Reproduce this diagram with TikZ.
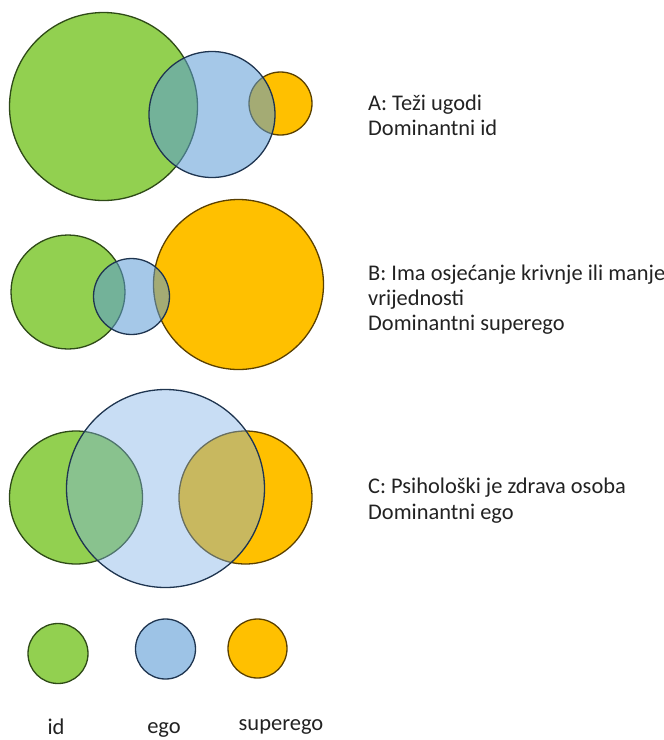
\documentclass[tikz,border=0pt]{standalone}
\usepackage{fontspec}
\setmainfont{Carlito}
\definecolor{idfill}{HTML}{92D050}
\definecolor{idline}{HTML}{2E4A17}
\definecolor{egofill}{HTML}{5B9BD5}
\definecolor{egolight}{RGB}{125,175,228}
\definecolor{egoline}{HTML}{1F3550}
\definecolor{supfill}{HTML}{FFC000}
\definecolor{supline}{HTML}{5A4000}
\definecolor{txt}{HTML}{222222}
\begin{document}
\begin{tikzpicture}[x=1pt,y=-1pt,
  circ/.style={circle, inner sep=0pt, line width=1.3pt},
  idc/.style={circ, draw=idline, fill=idfill},
  egoc/.style={circ, draw=egoline, fill=egofill, fill opacity=0.55},
  egocl/.style={circ, draw=egoline, fill=egolight, fill opacity=0.42},
  supc/.style={circ, draw=supline, fill=supfill},
  lbl/.style={anchor=base west, inner sep=0pt, text=txt, font=\fontsize{22.4}{26}\selectfont},
  leg/.style={anchor=base, inner sep=0pt, text=txt, font=\fontsize{22.5}{26}\selectfont}]
\useasboundingbox (0,0) rectangle (664,740);
% Row A
\node[idc, minimum size=188pt] (aid) at (103.5,106.5) {};
\node[supc, minimum size=63pt] (asup) at (280.5,103.5) {};
\node[egoc, minimum size=126pt] (aego) at (212,114.5) {};
% Row B
\node[idc, minimum size=114pt] (bid) at (68,292) {};
\node[supc, minimum size=170pt] (bsup) at (238.5,284.5) {};
\node[egoc, minimum size=76pt] (bego) at (131.5,296.5) {};
% Row C
\node[idc, minimum size=133pt] (cid) at (76,497.5) {};
\node[supc, minimum size=133pt] (csup) at (245.5,497.5) {};
\node[egocl, minimum size=198pt] (cego) at (165.5,488.5) {};
% Legend
\node[idc, minimum size=60pt] (lid) at (58,653.5) {};
\node[egoc, fill opacity=0.6, minimum size=60pt] (lego) at (165.5,649) {};
\node[supc, minimum size=59pt] (lsup) at (257.5,648.5) {};
\node[leg] (tid) at (56,734) {id};
\node[leg] (tego) at (164,733) {ego};
\node[leg] (tsup) at (281,730) {superego};
% Texts
\node[lbl] (ta1) at (368,110) {A: Teži ugodi};
\node[lbl] (ta2) at (368,135) {Dominantni id};
\node[lbl] (tb1) at (368,280) {B: Ima osjećanje krivnje ili manje};
\node[lbl] (tb2) at (368,305) {vrijednosti};
\node[lbl] (tb3) at (368,330) {Dominantni superego};
\node[lbl] (tc1) at (368,493) {C: Psihološki je zdrava osoba};
\node[lbl] (tc2) at (368,519) {Dominantni ego};
\end{tikzpicture}
\end{document}
